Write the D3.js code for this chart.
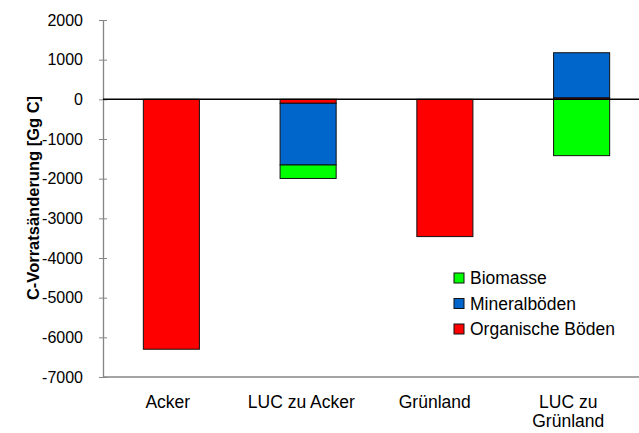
<!DOCTYPE html>
<html><head><meta charset="utf-8">
<script src="https://cdn.jsdelivr.net/npm/d3@7"></script>
<style>body{margin:0;background:#fff}svg{display:block;font-family:"Liberation Sans",Arial,sans-serif}</style>
</head><body>
<svg id="c" width="639" height="433"></svg>
<script>
const categories = ["Acker", "LUC zu Acker", "Grünland", "LUC zu Grünland"];
const categoryLines = [["Acker"], ["LUC zu Acker"], ["Grünland"], ["LUC zu", "Grünland"]];
const organischeBoeden = [-6300, -100, -3460, 40];
const mineralboeden = [0, -1555, 0, 1135];
const biomasse = [0, -340, 0, -1420];
const yTicks = [2000, 1000, 0, -1000, -2000, -3000, -4000, -5000, -6000, -7000];
const seriesNames = ["Organische Böden", "Mineralböden", "Biomasse"];
const seriesColors = ["#ff0000", "#0066cc", "#00ff00"];
const yTitle = "C-Vorratsänderung [Gg C]";

const svg = d3.select("#c");
const x0 = 103, x1 = 650, yTop = 20, yBot = 377;

const rows = categories.map((c, i) => ({cat: c, o: organischeBoeden[i], m: mineralboeden[i], b: biomasse[i]}));
const keys = ["o", "m", "b"];
const stack = d3.stack().keys(keys).offset(d3.stackOffsetDiverging)(rows);

const x = d3.scaleBand().domain(categories).range([x0, x1]).paddingInner(0.59).paddingOuter(0.295);
const xLab = d3.scaleBand().domain(categories).range([101, 635]);
const y = d3.scaleLinear().domain([-7000, 2000]).range([yBot, yTop]);

// bottom border line
svg.append("line").attr("x1", x0).attr("x2", 639).attr("y1", y(-7000)).attr("y2", y(-7000))
  .attr("stroke", "#868686").attr("stroke-width", 1.3);

// y axis
const yAxis = svg.append("g").attr("transform", `translate(${x0},0)`)
  .call(d3.axisLeft(y).tickValues(yTicks).tickFormat(d => String(d)).tickSizeInner(4).tickSizeOuter(0).tickPadding(16));
yAxis.select(".domain").attr("stroke", "#868686").attr("stroke-width", 1.3);
yAxis.selectAll(".tick line").attr("stroke", "#868686").attr("x2", 4).attr("x1", -4);
yAxis.selectAll(".tick text").attr("font-size", 16).attr("fill", "#000")
  .attr("font-family", "'Liberation Sans', Arial, sans-serif");

// bars
svg.append("g").selectAll("g").data(stack).join("g")
  .attr("fill", (d, i) => seriesColors[i])
  .selectAll("rect").data(d => d).join("rect")
  .attr("x", d => x(d.data.cat))
  .attr("width", x.bandwidth())
  .attr("y", d => y(Math.max(d[0], d[1])))
  .attr("height", d => Math.abs(y(d[0]) - y(d[1])))
  .attr("stroke", d => (d[1] - d[0]) === 0 ? "none" : "#111")
  .attr("stroke-width", 1);

// zero line
svg.append("line").attr("x1", x0).attr("x2", 639).attr("y1", y(0)).attr("y2", y(0))
  .attr("stroke", "#000").attr("stroke-width", 1.5);

// category labels
const xa = svg.append("g").attr("transform", `translate(0,395)`)
  .call(d3.axisBottom(xLab).tickSize(0).tickPadding(0));
xa.select(".domain").remove();
xa.selectAll(".tick text").each(function(d, i) {
  const t = d3.select(this).text(null).attr("font-size", 17.5).attr("fill", "#000")
    .attr("font-family", "'Liberation Sans', Arial, sans-serif").attr("dy", null).attr("y", 12.5);
  categoryLines[i].forEach((ln, k) => t.append("tspan").attr("x", 0).attr("dy", k === 0 ? 0 : 19).text(ln));
});

// y title
svg.append("text").attr("transform", "translate(39,198) rotate(-90)")
  .attr("text-anchor", "middle").attr("font-size", 16.5).attr("font-weight", "bold").text(yTitle);

// legend (top to bottom: Biomasse, Mineralböden, Organische Böden)
const legOrder = [2, 1, 0];
const lg = svg.append("g").selectAll("g").data(legOrder).join("g")
  .attr("transform", (d, i) => `translate(454,${273 + i * 25.5})`);
lg.append("rect").attr("width", 10).attr("height", 10).attr("fill", d => seriesColors[d])
  .attr("stroke", "#111").attr("stroke-width", 1);
lg.append("text").attr("x", 16).attr("y", 11).attr("font-size", 17.5).text(d => seriesNames[d]);
</script>
</body></html>
